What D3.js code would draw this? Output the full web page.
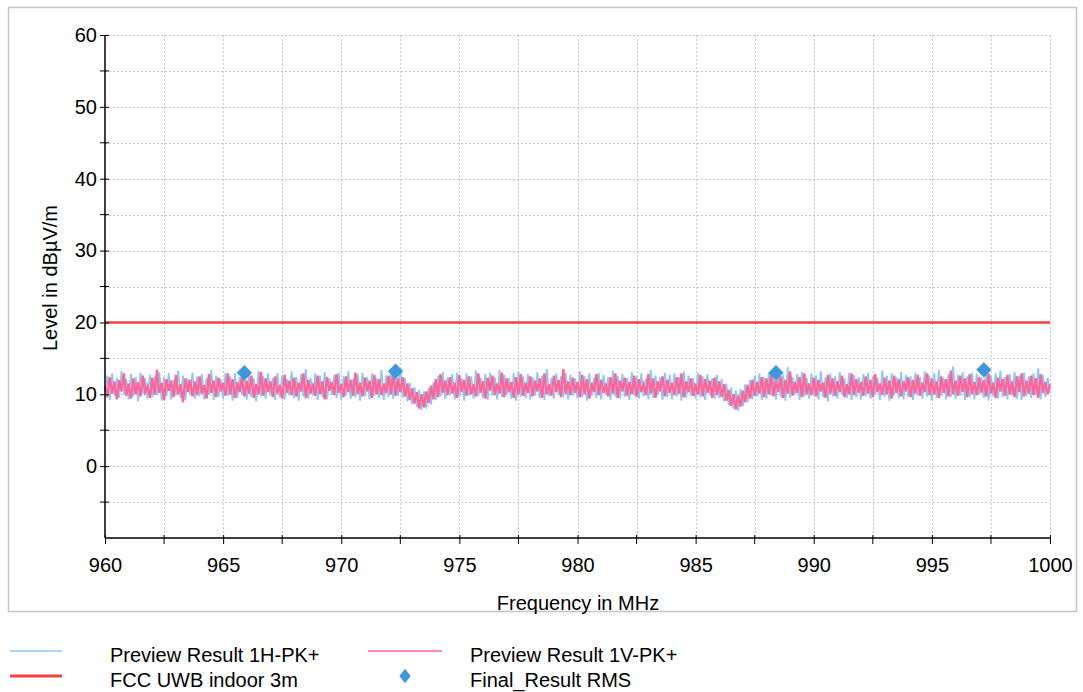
<!DOCTYPE html>
<html>
<head>
<meta charset="utf-8">
<script src="https://cdn.jsdelivr.net/npm/d3@7"></script>
<style>
  body { margin: 0; background: #fff; }
  svg text { font-family: "Liberation Sans", Arial, sans-serif; fill: #000; }
</style>
</head>
<body>
<svg width="1083" height="692"></svg>
<script>
// sweep start / step (MHz) for the preview traces
const startFreq = 960;
const stepFreq = 0.1;

// Preview Result 1H-PK+ (dBµV/m), one value per 0.1 MHz
const previewH = [
  10.4, 12.6, 9.2, 12.9, 9.8, 12.3, 9.5, 13.2, 10.0, 12.1, 9.3, 12.8, 9.7, 12.4, 9.0, 13.0, 10.1, 12.2, 9.4, 12.7,
  9.6, 12.5, 9.9, 13.1, 9.1, 12.4, 9.7, 12.9, 9.3, 12.0, 9.8, 13.3, 9.5, 12.6, 9.2, 12.2, 10.0, 13.0, 9.4, 12.5,
  9.7, 12.8, 9.3, 12.3, 9.9, 13.4, 9.2, 12.6, 9.6, 12.1, 9.4, 13.0, 9.8, 12.5, 9.1, 12.9, 9.5, 12.4, 9.9, 13.1,
  9.3, 12.7, 9.6, 12.2, 9.0, 13.3, 9.7, 12.5, 9.4, 12.9, 9.8, 12.3, 9.2, 13.0, 9.6, 12.6, 9.3, 12.1, 9.9, 13.2,
  9.5, 12.4, 9.1, 12.8, 9.7, 13.5, 9.4, 12.3, 9.8, 12.9, 9.2, 12.6, 9.6, 13.1, 9.3, 12.2, 9.9, 12.7, 9.5, 13.0,
  9.2, 12.5, 9.8, 13.2, 9.4, 12.1, 9.6, 12.8, 9.1, 13.0, 9.7, 12.4, 9.3, 12.9, 9.8, 12.2, 9.5, 13.4, 9.2, 12.6,
  9.6, 13.0, 9.4, 12.7, 9.8, 13.6, 9.5, 12.3, 9.0, 11.6, 8.6, 11.0, 8.2, 10.6, 7.8, 10.4, 8.0, 10.9, 8.6, 11.7,
  9.2, 12.6, 9.7, 13.1, 9.4, 12.4, 9.9, 12.8, 9.3, 13.0, 9.6, 12.2, 9.1, 12.9, 9.8, 12.5, 9.4, 13.3, 9.7, 12.3,
  9.5, 12.8, 9.2, 13.0, 9.8, 12.4, 9.3, 13.4, 9.6, 12.7, 9.9, 12.2, 9.4, 12.9, 9.1, 13.2, 9.7, 12.5, 9.5, 12.8,
  9.3, 12.4, 9.8, 13.1, 9.5, 12.6, 9.2, 13.5, 9.7, 12.3, 9.4, 12.9, 9.9, 12.5, 9.6, 13.0, 9.3, 12.7, 9.8, 12.2,
  9.4, 13.2, 9.6, 12.5, 9.1, 12.9, 9.8, 12.3, 9.5, 13.0, 9.3, 12.7, 9.9, 12.4, 9.2, 13.3, 9.7, 12.6, 9.4, 12.8,
  9.6, 12.3, 9.2, 13.1, 9.8, 12.5, 9.4, 12.9, 9.7, 12.2, 9.3, 13.4, 9.5, 12.6, 9.9, 12.4, 9.2, 13.0, 9.6, 12.7,
  9.3, 12.9, 9.7, 12.4, 9.1, 13.2, 9.5, 12.6, 9.8, 12.3, 9.4, 13.0, 9.6, 12.5, 9.2, 12.8, 9.9, 12.2, 9.4, 12.7,
  9.5, 12.1, 9.0, 11.5, 8.5, 10.9, 8.0, 10.5, 7.7, 10.7, 8.3, 11.4, 8.9, 12.0, 9.3, 12.6, 9.7, 12.9, 9.2, 12.4,
  9.4, 13.0, 9.8, 12.5, 9.3, 13.3, 9.6, 12.7, 9.1, 13.8, 9.5, 12.4, 9.9, 12.8, 9.2, 13.1, 9.7, 12.3, 9.4, 12.9,
  9.8, 12.6, 9.3, 13.2, 9.6, 12.4, 9.0, 12.9, 9.7, 12.5, 9.4, 13.1, 9.9, 12.2, 9.5, 13.0, 9.2, 12.7, 9.6, 12.4,
  9.3, 12.8, 9.7, 13.0, 9.4, 12.5, 9.9, 12.3, 9.2, 13.3, 9.6, 12.6, 9.1, 12.9, 9.8, 12.4, 9.5, 13.1, 9.3, 12.7,
  9.6, 12.5, 9.2, 13.0, 9.8, 12.4, 9.4, 13.2, 9.7, 12.6, 9.1, 12.9, 9.5, 13.4, 9.8, 12.3, 9.3, 12.8, 9.6, 13.9,
  9.4, 12.7, 9.8, 13.1, 9.2, 12.5, 9.6, 13.0, 9.3, 12.8, 9.9, 12.4, 9.5, 13.2, 9.1, 12.6, 9.7, 12.9, 9.4, 13.3,
  9.6, 12.4, 9.3, 12.8, 9.8, 13.1, 9.4, 12.6, 9.2, 13.0, 9.7, 12.5, 9.5, 12.9, 9.9, 13.6, 9.3, 12.7, 9.6, 12.3,
  10.2
];

// Preview Result 1V-PK+ (dBµV/m), one value per 0.1 MHz
const previewV = [
  11.2, 9.6, 12.4, 10.1, 11.8, 9.3, 12.0, 10.4, 12.9, 9.8, 11.5, 9.4, 12.2, 10.0, 11.7, 9.7, 12.6, 10.3, 11.1, 9.5,
  12.3, 9.9, 13.4, 10.2, 11.6, 9.2, 12.1, 10.5, 11.9, 9.6, 12.7, 10.0, 11.4, 8.9, 12.2, 10.3, 12.0, 9.7, 11.8, 9.9,
  12.5, 10.1, 11.3, 9.4, 12.8, 10.2, 11.9, 9.6, 12.3, 10.4, 11.6, 9.8, 12.9, 10.0, 12.1, 9.5, 11.7, 10.3, 12.4, 9.7,
  11.9, 10.1, 12.6, 9.5, 11.4, 10.0, 13.1, 9.8, 12.2, 10.3, 11.8, 9.6, 12.5, 10.1, 11.3, 9.4, 12.7, 10.2, 11.9, 9.9,
  12.3, 9.7, 11.6, 10.4, 12.9, 9.5, 12.0, 10.1, 11.5, 9.8, 12.6, 10.0, 11.8, 9.3, 12.4, 10.5, 11.7, 9.9, 12.8, 10.2,
  11.4, 9.6, 12.5, 10.3, 12.0, 9.8, 13.0, 10.1, 11.6, 9.7, 12.3, 10.4, 11.9, 9.5, 12.7, 10.0, 12.1, 9.9, 11.5, 10.2,
  12.6, 10.0, 12.9, 9.8, 12.2, 10.3, 12.4, 9.7, 11.5, 9.2, 10.8, 8.7, 10.3, 8.0, 10.0, 8.2, 10.4, 8.8, 11.2, 9.3,
  12.1, 9.6, 12.8, 10.2, 11.9, 9.9, 12.4, 10.1, 11.6, 9.5, 12.7, 10.3, 12.0, 9.8, 12.5, 10.0, 11.4, 9.7, 12.9, 10.2,
  11.8, 9.4, 12.3, 10.5, 12.6, 9.9, 11.5, 10.1, 13.0, 9.6, 12.2, 10.3, 11.7, 9.5, 12.4, 10.0, 12.8, 9.8, 11.6, 10.2,
  12.5, 9.7, 11.9, 10.4, 12.2, 9.5, 12.9, 10.0, 11.4, 9.8, 12.6, 10.3, 12.0, 9.6, 13.5, 10.1, 11.8, 9.9, 12.3, 10.2,
  11.7, 9.6, 12.7, 10.0, 12.1, 9.4, 11.6, 10.3, 12.8, 9.9, 12.0, 10.2, 11.5, 9.7, 12.4, 10.1, 12.9, 9.5, 11.9, 10.4,
  12.3, 9.8, 11.7, 10.0, 12.6, 9.6, 12.1, 10.3, 11.4, 9.9, 12.8, 10.1, 12.2, 9.5, 11.8, 10.4, 12.5, 9.7, 12.0, 10.2,
  11.6, 9.9, 12.4, 10.1, 12.9, 9.6, 11.8, 10.3, 12.2, 9.8, 11.5, 10.0, 12.7, 9.7, 12.1, 10.2, 11.9, 9.5, 12.3, 9.9,
  11.8, 9.6, 11.4, 9.1, 10.6, 8.4, 10.0, 7.9, 9.8, 8.3, 10.5, 8.9, 11.3, 9.4, 12.0, 9.8, 11.7, 10.1, 12.4, 9.6,
  12.2, 10.0, 12.8, 9.7, 11.9, 10.3, 12.5, 9.5, 12.0, 10.1, 13.2, 9.8, 11.7, 10.2, 12.4, 9.6, 12.9, 10.0, 11.5, 9.9,
  12.3, 9.7, 12.0, 10.4, 11.6, 9.5, 12.7, 10.1, 12.2, 9.8, 11.8, 10.3, 12.6, 9.6, 11.4, 10.0, 12.9, 9.9, 12.1, 10.2,
  11.7, 9.8, 12.5, 10.1, 12.0, 9.6, 12.8, 10.3, 11.5, 9.9, 12.3, 10.0, 11.9, 9.4, 12.6, 10.2, 12.1, 9.7, 11.8, 10.4,
  12.4, 9.6, 12.0, 10.1, 12.7, 9.8, 11.6, 10.3, 12.9, 9.9, 12.2, 10.0, 11.8, 9.5, 12.5, 10.2, 12.1, 9.7, 13.3, 10.0,
  11.9, 9.8, 12.6, 10.3, 12.2, 9.6, 12.8, 10.0, 11.7, 9.9, 12.4, 10.2, 12.0, 9.7, 12.9, 10.1, 11.6, 9.5, 12.3, 10.4,
  12.1, 9.8, 12.7, 10.0, 11.8, 9.6, 12.5, 10.3, 12.9, 9.7, 11.9, 10.1, 12.6, 9.9, 12.2, 9.5, 12.8, 10.2, 11.7, 10.0,
  11.4
];

// FCC UWB indoor 3m limit
const limitFreq = [960, 1000];
const limitLevel = [20, 20];

// Final_Result RMS
const finalFreq = [965.9, 972.3, 988.4, 997.2];
const finalLevel = [13.0, 13.2, 13.0, 13.4];

// axis ticks
const xTicks = [960, 965, 970, 975, 980, 985, 990, 995, 1000];
const xMinor = [962.5, 967.5, 972.5, 977.5, 982.5, 987.5, 992.5, 997.5];
const yTicks = [0, 10, 20, 30, 40, 50, 60];
const yMinor = [-5, 5, 15, 25, 35, 45, 55];

const colH = "#8fc6f5";
const colV = "#ff6596";
const colLimit = "#f2413f";
const colFinal = "#3d98dd";
const fontSize = "20px";

var svg = d3.select("svg");

// outer frame
svg.append("rect")
    .attr("x", 8.5).attr("y", 7.5)
    .attr("width", 1068).attr("height", 604)
    .attr("fill", "#fff")
    .attr("stroke", "#c4c4c4")
    .attr("stroke-width", 1.5);

var x = d3.scaleLinear().domain([960, 1000]).range([105, 1050]);
var y = d3.scaleLinear().domain([-10, 60]).range([538, 35]);

// grid
var grid = svg.append("g")
    .attr("stroke", "#c8c8c8")
    .attr("stroke-dasharray", "2,2")
    .attr("stroke-width", 1);
grid.selectAll(".gx")
    .data(xTicks.concat(xMinor).filter(d => d !== 960))
    .enter().append("line")
    .attr("x1", d => Math.round(x(d)) + 0.5).attr("x2", d => Math.round(x(d)) + 0.5)
    .attr("y1", y(60)).attr("y2", y(-10));
grid.selectAll(".gy")
    .data(yTicks.concat(yMinor))
    .enter().append("line")
    .attr("y1", d => Math.round(y(d)) + 0.5).attr("y2", d => Math.round(y(d)) + 0.5)
    .attr("x1", x(960)).attr("x2", x(1000));

// preview traces
var trace = d3.line()
    .x((d, i) => x(startFreq + i * stepFreq))
    .y(d => y(d));

svg.append("path")
    .datum(previewH)
    .attr("fill", "none")
    .attr("stroke", colH)
    .attr("stroke-width", 1.8)
    .attr("d", trace);

svg.append("path")
    .datum(previewV)
    .attr("fill", "none")
    .attr("stroke", colV)
    .attr("stroke-width", 2.3)
    .attr("d", trace);

// limit line
svg.append("path")
    .datum(limitFreq.map((f, i) => [f, limitLevel[i]]))
    .attr("fill", "none")
    .attr("stroke", colLimit)
    .attr("stroke-width", 2.5)
    .attr("d", d3.line().x(d => x(d[0])).y(d => y(d[1])));

// final result diamonds
svg.selectAll(".final")
    .data(finalFreq)
    .enter().append("path")
    .attr("class", "final")
    .attr("transform", (d, i) => "translate(" + x(d) + "," + y(finalLevel[i]) + ")")
    .attr("d", d3.symbol(d3.symbolDiamond2, 150))
    .attr("fill", colFinal);

// axes
var yAxis = svg.append("g")
    .attr("transform", "translate(" + x(960) + ",0)")
    .call(d3.axisLeft(y).tickValues(yTicks).tickSize(5).tickPadding(3).tickFormat(d3.format("d")));
yAxis.selectAll(".tick line").attr("x1", 4);
yAxis.selectAll(".minor")
    .data(yMinor)
    .enter().append("line")
    .attr("stroke", "#000")
    .attr("x1", -5).attr("x2", 4)
    .attr("y1", d => y(d)).attr("y2", d => y(d));

var xAxis = svg.append("g")
    .attr("transform", "translate(0," + y(-10) + ")")
    .call(d3.axisBottom(x).tickValues(xTicks).tickSize(6).tickPadding(14).tickFormat(d3.format("d")));
xAxis.selectAll(".tick line").attr("y1", -3);
xAxis.selectAll(".minor")
    .data(xMinor)
    .enter().append("line")
    .attr("stroke", "#000")
    .attr("y1", -3).attr("y2", 6)
    .attr("x1", d => x(d)).attr("x2", d => x(d));

[yAxis, xAxis].forEach(a => {
    a.select(".domain").attr("stroke-width", 1.5);
    a.selectAll("text").style("font-size", fontSize).attr("fill", "#000");
});
yAxis.select(".domain").attr("d", "M0," + y(60) + "V" + y(-10));
xAxis.select(".domain").attr("d", "M" + x(960) + ",0H" + x(1000));

// axis titles
svg.append("text")
    .attr("x", 578).attr("y", 610)
    .attr("text-anchor", "middle")
    .style("font-size", fontSize)
    .text("Frequency in MHz");

svg.append("text")
    .attr("transform", "translate(57,278) rotate(-90)")
    .attr("text-anchor", "middle")
    .style("font-size", fontSize)
    .text("Level in dBµV/m");

// legend
const legendItems = [
    { label: "Preview Result 1H-PK+", type: "line", color: colH, w: 1.5, lx: 10, lw: 52, tx: 110, y: 651 },
    { label: "Preview Result 1V-PK+", type: "line", color: colV, w: 1.5, lx: 368, lw: 74, tx: 470, y: 651 },
    { label: "FCC UWB indoor 3m", type: "line", color: colLimit, w: 3, lx: 10, lw: 52, tx: 110, y: 676 },
    { label: "Final_Result RMS", type: "diamond", color: colFinal, lx: 405, tx: 470, y: 676 }
];

var legend = svg.append("g");
legendItems.forEach(it => {
    if (it.type === "line") {
        legend.append("line")
            .attr("x1", it.lx).attr("x2", it.lx + it.lw)
            .attr("y1", it.y).attr("y2", it.y)
            .attr("stroke", it.color)
            .attr("stroke-width", it.w);
    } else {
        legend.append("path")
            .attr("transform", "translate(" + it.lx + "," + it.y + ") scale(0.8,1)")
            .attr("d", d3.symbol(d3.symbolDiamond2, 130))
            .attr("fill", it.color);
    }
    legend.append("text")
        .attr("x", it.tx).attr("y", it.y + 11)
        .style("font-size", fontSize)
        .text(it.label);
});
</script>
</body>
</html>
